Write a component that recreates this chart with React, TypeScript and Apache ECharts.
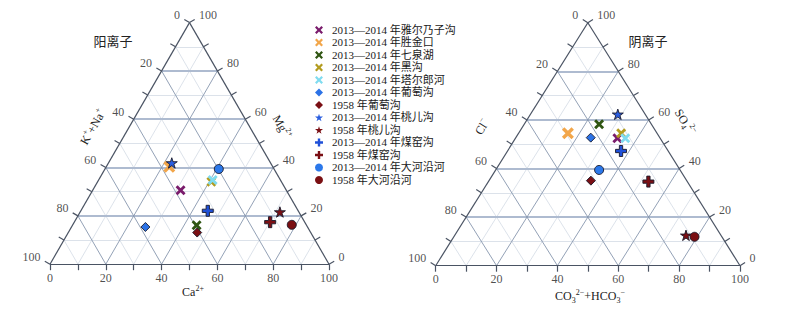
import React, { useEffect, useRef } from 'react';
import * as echarts from 'echarts';

// ---------- data ----------
const categories = [
  '2013—2014 年雅尔乃子沟',
  '2013—2014 年胜金口',
  '2013—2014 年七泉湖',
  '2013—2014 年黑沟',
  '2013—2014 年塔尔郎河',
  '2013—2014 年葡萄沟',
  '1958 年葡萄沟',
  '2013—2014 年桃儿沟',
  '1958 年桃儿沟',
  '2013—2014 年煤窑沟',
  '1958 年煤窑沟',
  '2013—2014 年大河沿河',
  '1958 年大河沿河',
];

// cations (%): Ca2+, Mg2+, K+ + Na+
const cationCa = [31.5, 22.6, 44.5, 40.8, 40.9, 26.5, 46.2, 22.7, 71.6, 45.5, 70.2, 40.8, 78.5];
const cationMg = [30.6, 40.3, 16.1, 34.1, 34.8, 15.4, 13.1, 41.9, 21.6, 22.1, 17.4, 39.4, 16.3];
const cationNaK = [37.9, 37.1, 39.4, 25.1, 24.3, 58.1, 40.7, 35.4, 6.8, 32.4, 12.4, 19.8, 5.2];

// anions (%): CO3 2- + HCO3-, SO4 2-, Cl-
const anionCO3 = [33.5, 16.2, 24.6, 33.7, 36.1, 24.6, 33.5, 28.7, 76.0, 37.3, 52.6, 34.0, 79.1];
const anionSO4 = [52.4, 54.5, 58.2, 54.5, 52.4, 52.7, 35.0, 62.3, 12.5, 47.2, 34.6, 39.4, 11.9];
const anionCl = [14.1, 29.3, 17.2, 11.8, 11.5, 22.7, 31.5, 9.0, 11.5, 15.5, 12.8, 26.6, 9.0];

const tickValues = [0, 10, 20, 30, 40, 50, 60, 70, 80, 90, 100];
const tickLabels = [0, 20, 40, 60, 80, 100];
const minorLines = [10, 30, 50, 70, 90];
const majorLines = [20, 40, 60, 80];

// ---------- styles ----------
const SYM_X = 'path://M0,2L2,0L5,3L8,0L10,2L7,5L10,8L8,10L5,7L2,10L0,8L3,5Z';
const SYM_PLUS = 'path://M3.5,0H6.5V3.5H10V6.5H6.5V10H3.5V6.5H0V3.5H3.5Z';
const SYM_STAR =
  'path://M50,0L61.2,34.5L97.6,34.5L68.2,55.9L79.4,90.5L50,69.1L20.6,90.5L31.8,55.9L2.4,34.5L38.8,34.5Z';

const seriesStyles = [
  { symbol: SYM_X, color: '#7a1c6c', size: 10, border: false },
  { symbol: SYM_X, color: '#f2a64a', size: 12, border: false },
  { symbol: SYM_X, color: '#2f5512', size: 10, border: false },
  { symbol: SYM_X, color: '#b39c1f', size: 10, border: false },
  { symbol: SYM_X, color: '#80dcf0', size: 10, border: false },
  { symbol: 'diamond', color: '#2b72e6', size: 9, border: true },
  { symbol: 'diamond', color: '#7a0f14', size: 9, border: true },
  { symbol: SYM_STAR, color: '#2a5ee0', size: 11, border: true },
  { symbol: SYM_STAR, color: '#7a0f14', size: 11, border: true },
  { symbol: SYM_PLUS, color: '#1f50d8', size: 11, border: true },
  { symbol: SYM_PLUS, color: '#7a0f14', size: 11, border: true },
  { symbol: 'circle', color: '#2b78ea', size: 9, border: true },
  { symbol: 'circle', color: '#7a0f12', size: 9, border: true },
];

const SERIF = "'Liberation Serif', 'Times New Roman', 'Noto Sans CJK SC', serif";
const H = 86.6025;
const grids = [
  { left: 50, top: 22.6, width: 279, height: 241.6 },
  { left: 435.7, top: 22.7, width: 304.3, height: 243 },
];

// ternary -> cartesian (a: bottom component, b: top component)
function toXY(a: number, b: number, c: number): [number, number] {
  const s = a + b + c;
  const A = (a / s) * 100;
  const B = (b / s) * 100;
  return [A + B / 2, (B * H) / 100];
}

function buildTriangle(t: number) {
  const g = grids[t];
  const kx = g.width / 100;
  const ky = g.height / H;
  const tickLen = 6;
  const pt = (a: number, b: number): [number, number] => [a + b / 2, (b * H) / 100];

  const horiz = (v: number) => ({ coords: [pt(0, v), pt(100 - v, v)] });
  const diagA = (v: number) => ({ coords: [pt(v, 0), pt(v, 100 - v)] });
  const diagC = (v: number) => ({ coords: [pt(100 - v, 0), pt(0, 100 - v)] });

  const base = {
    type: 'lines',
    coordinateSystem: 'cartesian2d',
    xAxisIndex: t,
    yAxisIndex: t,
    polyline: false,
    silent: true,
    clip: false,
    z: 1,
  };

  const lnx = -H * ky, lny = 50 * kx;
  const ln = Math.hypot(lnx, lny);
  const rnx = H * ky, rny = 50 * kx;
  const rn = Math.hypot(rnx, rny);

  const ticks: any[] = [];
  tickValues.forEach((v) => {
    ticks.push({ coords: [pt(v, 0), [v, -tickLen / ky]] });
    const pl = pt(0, 100 - v);
    ticks.push({ coords: [pl, [pl[0] + ((lnx / ln) * tickLen) / kx, pl[1] + ((lny / ln) * tickLen) / ky]] });
    const pr = pt(100 - v, v);
    ticks.push({ coords: [pr, [pr[0] + ((rnx / rn) * tickLen) / kx, pr[1] + ((rny / rn) * tickLen) / ky]] });
  });

  const labelBase = {
    type: 'scatter',
    xAxisIndex: t,
    yAxisIndex: t,
    symbolSize: 1,
    silent: true,
    clip: false,
    itemStyle: { color: 'rgba(0,0,0,0)' },
    z: 3,
  };
  const labelStyle = { show: true, fontSize: 12, fontFamily: SERIF, color: '#1e1e1e', formatter: (p: any) => String(p.value[2]) };

  return [
    {
      ...base,
      lineStyle: { color: '#d3dae4', width: 0.8, opacity: 1 },
      data: [...minorLines.map(horiz), ...minorLines.map(diagA), ...minorLines.map(diagC)],
    },
    {
      ...base,
      lineStyle: { color: '#aebbd0', width: 1.8, opacity: 1 },
      data: majorLines.map(horiz),
    },
    {
      ...base,
      lineStyle: { color: '#8796ae', width: 0.9, opacity: 1 },
      data: [...majorLines.map(diagA), ...majorLines.map(diagC)],
    },
    {
      ...base,
      z: 2,
      lineStyle: { color: '#4a5363', width: 1.2, opacity: 1 },
      data: [
        { coords: [pt(0, 0), pt(100, 0)] },
        { coords: [pt(100, 0), pt(0, 100)] },
        { coords: [pt(0, 100), pt(0, 0)] },
        ...ticks,
      ],
    },
    {
      ...labelBase,
      label: { ...labelStyle, position: 'bottom', distance: 7 },
      data: tickLabels.map((v) => [...pt(v, 0), v]),
    },
    {
      ...labelBase,
      label: { ...labelStyle, position: 'left', distance: 9, offset: [0, -7.5] },
      data: tickLabels.map((v) => [...pt(0, 100 - v), v]),
    },
    {
      ...labelBase,
      label: { ...labelStyle, position: 'right', distance: 9, offset: [0, -7.5] },
      data: tickLabels.map((v) => [...pt(100 - v, v), v]),
    },
  ];
}

function buildPoints() {
  const out: any[] = [];
  categories.forEach((name, i) => {
    const st = seriesStyles[i];
    const common = {
      type: 'scatter',
      name,
      symbol: st.symbol,
      symbolSize: st.size,
      symbolKeepAspect: true,
      clip: false,
      z: 5,
      itemStyle: {
        color: st.color,
        borderColor: st.border ? '#1a1a2a' : undefined,
        borderWidth: st.border ? 0.9 : 0,
        opacity: 1,
      },
    };
    out.push({
      ...common,
      xAxisIndex: 0,
      yAxisIndex: 0,
      data: [toXY(cationCa[i], cationMg[i], cationNaK[i])],
    });
    out.push({
      ...common,
      xAxisIndex: 1,
      yAxisIndex: 1,
      data: [toXY(anionCO3[i], anionSO4[i], anionCl[i])],
    });
  });
  return out;
}

function richTitle(x: number, y: number, text: string, rotationDeg: number) {
  return {
    type: 'text',
    x,
    y,
    rotation: (rotationDeg * Math.PI) / 180,
    silent: true,
    style: {
      text,
      align: 'center',
      verticalAlign: 'middle',
      fill: '#222',
      rich: {
        m: { fontSize: 12, fontFamily: SERIF, fill: '#222', lineHeight: 16, verticalAlign: 'middle' },
        p: { fontSize: 8, fontFamily: SERIF, fill: '#222', lineHeight: 8, verticalAlign: 'top' },
        b: { fontSize: 8, fontFamily: SERIF, fill: '#222', lineHeight: 8, verticalAlign: 'bottom' },
      },
    },
  };
}

export default function App() {
  const ref = useRef<HTMLDivElement>(null);
  useEffect(() => {
    document.body.style.margin = '0';
    if (!ref.current) return;
    const chart = echarts.init(ref.current, undefined, { renderer: 'svg' });
    const axisX = (i: number) => ({ type: 'value', gridIndex: i, min: 0, max: 100, show: false });
    const axisY = (i: number) => ({ type: 'value', gridIndex: i, min: 0, max: H, show: false });
    chart.setOption({
      animation: false,
      backgroundColor: '#ffffff',
      grid: grids,
      xAxis: [axisX(0), axisX(1)],
      yAxis: [axisY(0), axisY(1)],
      legend: {
        data: categories.map((name, i) => ({
          name,
          itemStyle: { borderWidth: 0 },
        })),
        orient: 'vertical',
        left: 315,
        top: 24.5,
        padding: 0,
        itemWidth: 8,
        itemHeight: 8,
        itemGap: 1.5,
        selectedMode: false,
        textStyle: { fontSize: 11, fontFamily: SERIF, color: '#1a1a1a', lineHeight: 10, padding: [0, 0, 0, 4] },
      },
      graphic: [
        { type: 'text', x: 113, y: 41, silent: true, style: { text: '阳离子', align: 'center', verticalAlign: 'middle', fontSize: 13, fontFamily: SERIF, fill: '#222' } },
        { type: 'text', x: 648, y: 41, silent: true, style: { text: '阴离子', align: 'center', verticalAlign: 'middle', fontSize: 13, fontFamily: SERIF, fill: '#222' } },
        richTitle(193, 292, '{m|Ca}{p|2+}', 0),
        richTitle(93, 127, '{m|K}{p|+}{m|+Na}{p|+}', 60),
        richTitle(282, 127, '{m|Mg}{p|2+}', -60),
        richTitle(482, 127, '{m|Cl}{p|−}', 58),
        richTitle(685, 122, '{m|SO}{b|4}{p|2−}', -58),
        richTitle(590, 296, '{m|CO}{b|3}{p|2−}{m|+HCO}{b|3}{p|−}', 0),
      ],
      series: [...buildTriangle(0), ...buildTriangle(1), ...buildPoints()],
    });
    return () => chart.dispose();
  }, []);
  return <div ref={ref} style={{ width: 800, height: 313 }} />;
}
